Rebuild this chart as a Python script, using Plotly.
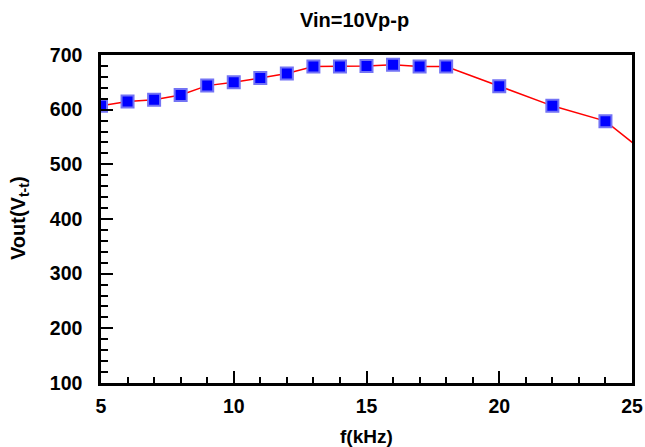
import plotly.graph_objects as go

freq_khz = [5, 6, 7, 8, 9, 10, 11, 12, 13, 14, 15, 16, 17, 18, 20, 22, 24, 26]
vout = [607, 615, 618, 627, 644, 650, 658, 666, 679, 679, 680, 682, 679, 679, 643, 607, 579, 502]

title_text = "Vin=10Vp-p"
x_title = "f(kHz)"
y_title = "Vout(V<sub>t-t</sub>)"
x_ticks = [5, 10, 15, 20, 25]
y_ticks = [100, 200, 300, 400, 500, 600, 700]

font_family = "Liberation Sans, Arial, sans-serif"

fig = go.Figure()
fig.add_trace(go.Scatter(
    x=freq_khz, y=vout, mode="lines+markers",
    line=dict(color="#ff0000", width=1.5),
    marker=dict(symbol="square", size=12, color="#0000ff",
                line=dict(color="#7373f5", width=2)),
    cliponaxis=True, showlegend=False,
))

axis_common = dict(
    showline=True, linecolor="black", linewidth=2.5, mirror=True,
    ticks="inside", tickcolor="black", tickwidth=2, ticklen=12,
    showgrid=False, zeroline=False, automargin=False,
    tickfont=dict(family=font_family, size=19.5, color="black", weight="bold"),
)

fig.update_xaxes(range=[5, 25], tickvals=x_ticks, ticklabelstandoff=4,
                 minor=dict(dtick=1, ticks="inside", ticklen=6, tickwidth=1.5, tickcolor="black"),
                 **axis_common)
fig.update_yaxes(range=[100, 700], tickvals=y_ticks, ticklabelstandoff=12,
                 minor=dict(dtick=20, ticks="inside", ticklen=7, tickwidth=1.5, tickcolor="black"),
                 **axis_common)

fig.update_layout(
    width=645, height=447,
    margin=dict(l=101, r=13, t=55, b=64, autoexpand=False),
    plot_bgcolor="white", paper_bgcolor="white",
    annotations=[
        dict(text=title_text, xref="paper", yref="paper", x=0.478, y=1, yshift=35,
             showarrow=False, xanchor="center", yanchor="middle",
             font=dict(family=font_family, size=20, color="black", weight="bold")),
        dict(text=x_title, xref="paper", yref="paper", x=0.5, y=0, yshift=-53,
             showarrow=False, xanchor="center", yanchor="middle",
             font=dict(family=font_family, size=19, color="black", weight="bold")),
        dict(text=y_title, xref="paper", yref="paper", x=0, xshift=-82, y=0.5, yshift=1,
             showarrow=False, xanchor="center", yanchor="middle", textangle=-90,
             font=dict(family=font_family, size=20, color="black", weight="bold")),
    ],
)

fig.write_html("out.html")
